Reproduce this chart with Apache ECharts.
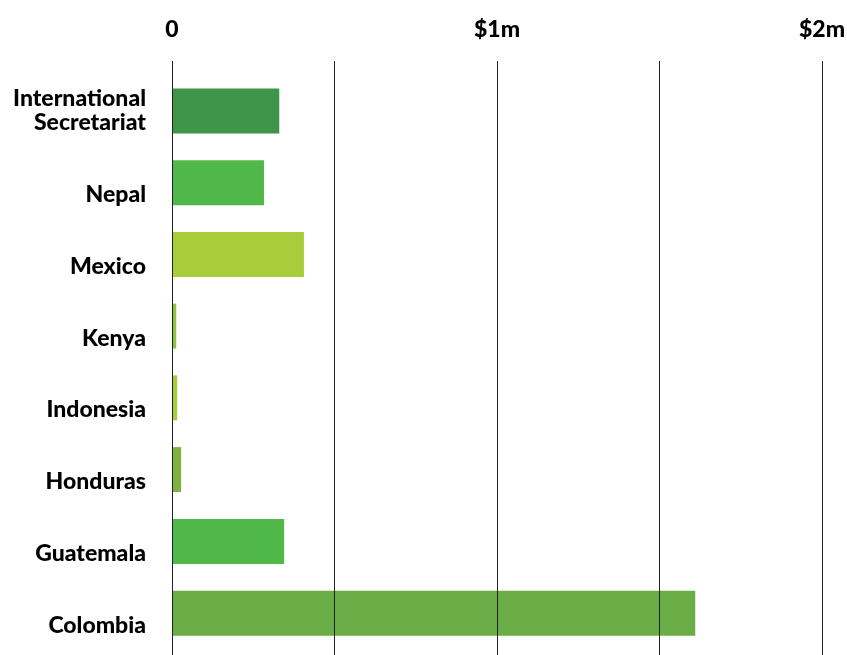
<!DOCTYPE html>
<html>
<head>
<meta charset="utf-8">
<script src="https://cdn.jsdelivr.net/npm/echarts@6/dist/echarts.min.js"></script>
<style>
html,body{margin:0;padding:0;background:#fff;}
#chart{width:847px;height:655px;}
</style>
</head>
<body>
<div id="chart"></div>
<script>
const categories = ['International\nSecretariat','Nepal','Mexico','Kenya','Indonesia','Honduras','Guatemala','Colombia'];
const values = [330000, 283000, 406000, 13000, 16000, 28000, 345000, 1610000];
const barColors = ['#3e9448','#50b848','#a8cd3b','#8cc63f','#a6ce39','#7fb241','#50b848','#6aac46'];
const tickLabels = {0:'0', 1000000:'$1m', 2000000:'$2m'};

const chart = echarts.init(document.getElementById('chart'), null, {renderer:'canvas'});
const font = 'Lato, "Open Sans", sans-serif';
chart.setOption({
  backgroundColor:'#fff',
  animation:false,
  grid:[
    {left:172, right:25, top:75, bottom:6, outerBoundsMode:'none', containLabel:false},
    {left:172, right:25, top:61, bottom:0, outerBoundsMode:'none', containLabel:false}
  ],
  xAxis:[
    {gridIndex:0, type:'value', min:0, max:2000000, show:false},
    {gridIndex:1, type:'value', min:0, max:2000000, interval:500000, position:'top', z:10,
     axisLine:{show:false}, axisTick:{show:false},
     splitLine:{show:true, lineStyle:{color:'#222', width:1}},
     axisLabel:{margin:20, fontFamily:font, fontWeight:900, fontSize:23, color:'#000',
       formatter:v => (tickLabels[v] !== undefined ? tickLabels[v] : '')}
    }
  ],
  yAxis:[
    {gridIndex:0, type:'category', inverse:true, data:categories,
     axisLine:{show:false}, axisTick:{show:false}, splitLine:{show:false},
     axisLabel:{margin:26, fontFamily:font, fontWeight:900, fontSize:23, color:'#000', lineHeight:24, align:'right',
       formatter:v => (v.indexOf('\n') >= 0 ? v : '\n' + v)}
    },
    {gridIndex:1, type:'value', show:false}
  ],
  series:[{
    type:'bar', xAxisIndex:0, yAxisIndex:0, barWidth:45,
    data: values.map((v,i)=>({value:v, itemStyle:{color:barColors[i]}}))
  }]
});
</script>
</body>
</html>
